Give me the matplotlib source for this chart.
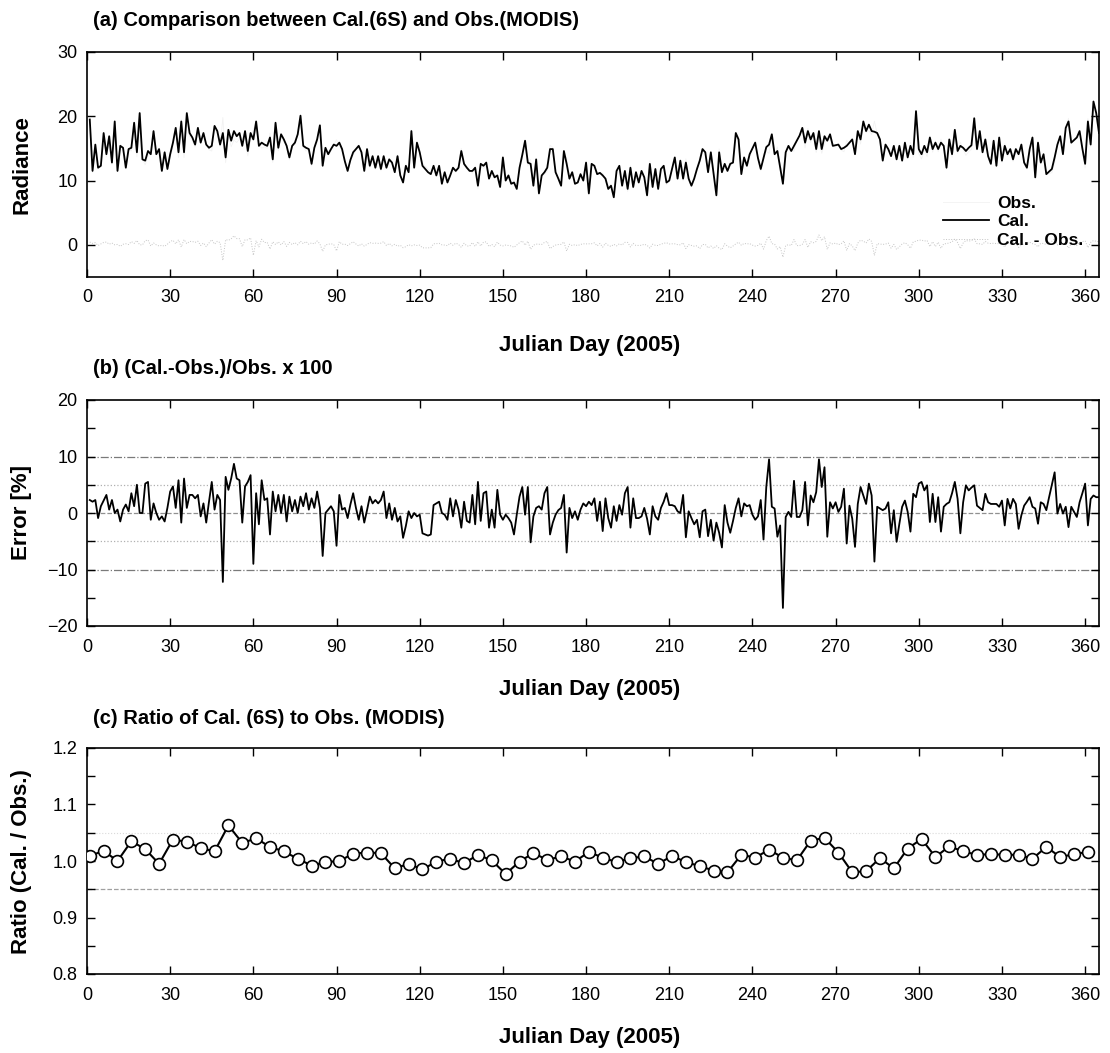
import numpy as np
import matplotlib
matplotlib.use("Agg")
import matplotlib.pyplot as plt
from matplotlib.ticker import MultipleLocator, FormatStrFormatter

plt.rcParams["font.family"] = ["Liberation Sans", "DejaVu Sans"]

# daily values (Julian day 1..365, 2005)
days = np.arange(1, 366)

radiance_cal = [
    19.5, 11.5, 15.6, 12.0, 12.3, 17.4, 14.1, 16.9, 12.8, 19.2,
    11.5, 15.4, 15.1, 12.0, 14.9, 15.1, 19.0, 14.4, 20.5, 13.3,
    13.1, 14.6, 14.1, 17.7, 14.1, 14.9, 11.5, 14.4, 11.8, 14.1,
    15.9, 18.2, 14.4, 19.2, 14.4, 20.5, 17.4, 16.7, 15.6, 18.2,
    15.9, 17.4, 15.6, 15.1, 15.4, 18.5, 17.7, 15.6, 17.4, 13.6,
    17.9, 16.2, 17.7, 16.9, 17.4, 15.4, 17.7, 14.6, 17.4, 16.4,
    19.2, 15.4, 15.9, 15.6, 15.4, 16.7, 13.3, 19.0, 15.1, 17.2,
    16.4, 15.4, 13.6, 15.4, 15.9, 17.2, 20.1, 15.4, 15.1, 14.9,
    12.6, 15.1, 16.4, 18.6, 12.3, 15.1, 14.1, 14.9, 15.6, 15.4,
    15.9, 14.9, 13.0, 11.5, 13.2, 14.4, 14.9, 15.4, 14.4, 11.5,
    14.9, 12.3, 13.8, 12.0, 13.8, 11.8, 13.8, 12.0, 13.3, 12.8,
    11.3, 13.8, 10.8, 9.7, 12.3, 11.3, 17.7, 12.0, 15.9, 14.4,
    12.3, 11.8, 11.3, 11.0, 12.3, 10.8, 12.3, 9.5, 11.3, 9.7,
    10.8, 12.0, 11.5, 12.0, 14.6, 12.6, 12.0, 11.5, 11.5, 12.0,
    9.2, 12.6, 12.3, 12.8, 10.3, 11.5, 10.5, 10.8, 9.0, 13.6,
    10.0, 10.8, 9.5, 9.7, 8.7, 12.0, 14.0, 16.2, 12.8, 12.6,
    9.2, 13.3, 8.0, 10.8, 11.3, 12.0, 14.9, 14.9, 11.3, 10.3,
    9.2, 14.6, 12.6, 10.3, 11.3, 9.5, 9.7, 11.0, 10.0, 12.8,
    8.0, 12.6, 12.3, 11.0, 11.2, 10.8, 10.3, 8.7, 9.2, 7.4,
    11.5, 12.3, 9.2, 11.5, 8.7, 12.0, 9.0, 11.3, 9.7, 11.5,
    10.5, 7.7, 12.6, 9.0, 11.8, 8.7, 11.8, 12.3, 9.7, 10.0,
    11.8, 13.6, 10.3, 13.1, 10.3, 12.8, 10.3, 9.2, 10.3, 11.8,
    13.1, 14.9, 14.4, 11.3, 14.4, 11.0, 7.7, 14.4, 11.3, 12.6,
    11.5, 12.6, 12.8, 17.4, 16.4, 11.0, 13.6, 12.3, 14.1, 15.0,
    15.9, 13.5, 11.8, 13.5, 15.2, 15.6, 17.2, 14.1, 14.6, 12.0,
    9.5, 14.4, 15.4, 14.6, 15.4, 16.2, 17.0, 18.2, 15.9, 17.7,
    16.4, 17.4, 14.9, 17.7, 14.9, 16.9, 16.2, 17.2, 15.4, 15.5,
    15.6, 14.9, 15.1, 15.4, 15.9, 16.4, 14.1, 17.7, 16.4, 19.2,
    17.7, 18.7, 17.7, 17.6, 17.4, 16.4, 13.1, 15.6, 14.9, 13.8,
    15.4, 13.3, 15.4, 13.1, 15.9, 13.6, 15.4, 14.1, 20.8, 14.9,
    14.1, 15.4, 14.4, 16.7, 14.9, 15.9, 14.9, 15.9, 15.4, 12.0,
    16.4, 14.1, 17.9, 14.6, 15.4, 15.1, 14.6, 15.1, 15.5, 19.7,
    14.9, 17.7, 14.4, 16.4, 13.8, 12.6, 16.2, 12.3, 16.7, 13.1,
    15.4, 14.1, 14.9, 13.3, 14.9, 14.1, 15.6, 12.8, 12.0, 14.9,
    16.7, 10.5, 15.9, 12.8, 14.1, 11.0, 11.4, 11.8, 13.6, 15.6,
    16.9, 14.1, 18.2, 19.2, 15.9, 16.3, 16.7, 17.7, 15.0, 12.6,
    19.2, 15.6, 22.3, 20.5, 17.4,
]

error_pct = [
    2.3, 2.0, 2.3, -0.9, 1.2, 2.2, 3.2, 0.6, 2.3, 0.0,
    0.6, -1.5, 0.6, 1.5, 0.3, 3.5, 1.2, 5.0, 0.0, 0.0,
    5.2, 5.5, -1.2, 1.7, 0.0, -1.2, -0.6, -1.5, 0.9, 3.8,
    4.7, 0.9, 5.8, -1.7, 6.1, 0.9, 3.2, 3.2, 2.6, 3.2,
    -0.6, 1.7, -1.7, 2.0, 5.5, 0.6, 3.2, 2.3, -12.2, 6.4,
    4.1, 6.1, 8.7, 6.1, 5.8, -1.7, 4.7, 5.5, 6.7, -9.0,
    3.5, -2.0, 5.8, 2.3, 2.6, -3.8, 3.8, 0.3, 3.2, 0.0,
    3.2, -1.5, 2.9, 0.3, 2.3, 0.0, 2.9, 1.2, 3.5, 0.6,
    2.6, 0.9, 3.8, 0.9, -7.6, 0.0, 0.6, 1.2, 0.3, -5.8,
    3.2, 0.6, 0.9, -0.9, 1.5, 3.5, 0.9, -1.2, 1.2, -1.7,
    0.5, 2.9, 1.7, 2.3, 1.7, 2.3, 3.8, -0.9, 1.7, -1.2,
    0.9, -1.5, -0.6, -4.4, -2.3, 0.3, -0.9, 0.0, -0.6, -0.3,
    -3.6, -3.8, -4.0, -3.8, 1.4, 1.7, 2.0, 0.0, -0.3, -1.2,
    2.6, -0.6, 2.3, 0.6, -2.6, 2.0, -1.4, -1.7, 3.2, -2.0,
    5.5, -1.4, 3.5, 3.8, -2.6, 0.6, -2.6, 4.1, -0.3, -1.2,
    -0.3, -0.9, -1.7, -3.8, -0.3, 2.9, 4.6, -0.3, 4.6, -5.2,
    -0.6, 0.9, 1.2, 0.6, 3.5, 4.6, -3.8, -1.7, -0.3, 0.5,
    0.9, 3.2, -7.0, 0.9, -0.9, 0.3, -1.2, 0.6, 1.7, 1.2,
    2.0, 1.4, 2.6, -1.4, 2.0, -3.2, 2.6, -0.9, -2.6, 1.2,
    -1.4, 1.4, -0.3, 3.5, 4.6, -2.6, 2.6, -0.9, -0.9, -0.6,
    0.9, -1.0, -3.8, 1.2, -0.6, -1.2, 0.9, 2.0, 3.5, 1.4,
    1.4, 1.2, 0.3, 0.0, 3.2, -4.3, 0.3, -0.9, -2.0, -1.2,
    -4.3, 0.3, 0.6, -4.1, -1.2, -4.9, -1.7, -3.5, -6.1, 1.4,
    -1.7, -3.5, -1.4, 0.9, 2.6, -0.6, 1.7, 1.2, 1.4, -0.3,
    -1.2, -0.6, 2.3, -4.7, 4.6, 9.5, 1.1, 0.8, -4.2, -2.2,
    -16.8, -0.7, 0.2, -0.7, 5.7, -0.7, -0.7, 0.5, 5.5, -2.2,
    3.1, 1.9, 3.7, 9.5, 4.6, 8.1, -4.2, 1.9, 0.8, 1.9,
    0.2, 1.1, 4.3, -5.4, 1.3, -1.0, -6.0, 1.6, 4.6, 3.1,
    1.6, 5.2, 3.1, -8.6, 1.1, 0.8, 0.5, 0.8, 1.9, -3.6,
    0.5, -5.1, -1.9, 1.1, 2.2, 0.2, -3.3, 3.4, 2.8, 5.2,
    5.5, 4.0, 4.9, -1.6, 3.4, -1.6, 2.8, -3.3, 1.1, 1.6,
    1.9, 3.5, 5.5, 2.5, -3.6, 1.9, 4.9, 4.0, 4.5, 4.9,
    1.3, 0.9, 0.5, 3.4, 1.9, 1.6, 1.6, 1.6, 1.1, 2.2,
    -2.2, 2.5, 0.8, 2.5, 1.6, -2.8, -0.4, 1.3, 2.0, 2.8,
    1.1, 0.8, -1.9, 1.9, 1.6, 0.5, 2.8, 5.0, 7.2, -0.1,
    1.6, -0.1, 1.1, -2.5, 1.1, 0.2, -0.7, 1.9, 3.5, 5.2,
    -2.2, 2.5, 3.1, 2.8, 2.8,
]

# 5-day ratio points
ratio_days = np.arange(1, 362, 5)
ratio = [
    1.009, 1.018, 1.000, 1.035, 1.021, 0.995, 1.038, 1.034, 1.023, 1.017,
    1.063, 1.032, 1.040, 1.025, 1.017, 1.004, 0.992, 0.998, 1.000, 1.013,
    1.015, 1.014, 0.987, 0.995, 0.985, 0.999, 1.004, 0.996, 1.011, 1.001,
    0.977, 0.999, 1.014, 1.002, 1.008, 0.999, 1.016, 1.006, 0.998, 1.005,
    1.008, 0.995, 1.009, 0.998, 0.991, 0.983, 0.980, 1.011, 1.006, 1.020,
    1.006, 1.001, 1.036, 1.041, 1.015, 0.980, 0.982, 1.005, 0.987, 1.022,
    1.039, 1.007, 1.026, 1.017, 1.011, 1.012, 1.011, 1.011, 1.004, 1.025,
    1.007, 1.012, 1.016,
]

cal = np.array(radiance_cal)
err = np.array(error_pct)
obs = cal / (1 + err / 100.0)
diff = cal - obs

W, H = 1110, 1053
fig = plt.figure(figsize=(W / 100, H / 100), dpi=100)


def box(left, top, right, bottom):
    return [left / W, 1 - bottom / H, (right - left) / W, (bottom - top) / H]


ax_a = fig.add_axes(box(87, 52, 1099, 277))
ax_b = fig.add_axes(box(87, 400, 1099, 626))
ax_c = fig.add_axes(box(87, 748, 1099, 974))

tick_fs = 13
for ax in (ax_a, ax_b, ax_c):
    ax.set_xlim(0, 365)
    ax.xaxis.set_major_locator(MultipleLocator(30))
    ax.tick_params(which="both", direction="in", top=True, right=True,
                   labelsize=tick_fs, width=1.0)
    ax.tick_params(which="major", length=6)
    ax.tick_params(which="minor", length=6)
    ax.tick_params(axis="x", pad=9)
    ax.tick_params(axis="y", pad=7)
    for s in ax.spines.values():
        s.set_linewidth(1.2)

# (a) radiance
ax_a.plot(days, obs, color="#f2f2f2", lw=0.6, label="Obs.")
ax_a.plot(days, cal, color="black", lw=1.3, label="Cal.")
ax_a.plot(days, diff, color="#c4c4c4", lw=0.7, ls=":", label="Cal. - Obs.")
ax_a.set_ylim(-5, 30)
ax_a.set_yticks([0, 10, 20, 30])
ax_a.legend(loc="center right", bbox_to_anchor=(0.995, 0.245), frameon=False,
            prop={"weight": "bold", "size": 12.5}, handlelength=2.6,
            labelspacing=0.2, borderpad=0.1, handletextpad=0.5)

# (b) error
ax_b.axhline(10, color="#7a7a7a", lw=0.9, ls="-.", zorder=1)
ax_b.axhline(-10, color="#7a7a7a", lw=0.9, ls="-.", zorder=1)
ax_b.axhline(5, color="#b0b0b0", lw=0.9, ls=":", zorder=1)
ax_b.axhline(-5, color="#b0b0b0", lw=0.9, ls=":", zorder=1)
ax_b.axhline(0, color="#909090", lw=0.9, ls="--", zorder=1)
ax_b.plot(days, err, color="black", lw=1.3, zorder=2)
ax_b.set_ylim(-20, 20)
ax_b.yaxis.set_major_locator(MultipleLocator(10))
ax_b.yaxis.set_minor_locator(MultipleLocator(5))

# (c) ratio
ax_c.axhline(0.95, color="#a0a0a0", lw=0.9, ls="--", zorder=1)
ax_c.axhline(1.05, color="#dadada", lw=0.8, ls=":", zorder=1)
ax_c.plot(ratio_days, ratio, color="black", lw=1.5, marker="o", ms=8.5,
          mfc="white", mec="black", mew=1.2, zorder=3)
ax_c.set_ylim(0.8, 1.2)
ax_c.yaxis.set_major_locator(MultipleLocator(0.1))
ax_c.yaxis.set_minor_locator(MultipleLocator(0.05))
ax_c.yaxis.set_major_formatter(FormatStrFormatter("%.1f"))

title_fs = 14.5
label_fs = 16
fig.text(93 / W, 1 - 20 / H, "(a) Comparison between Cal.(6S) and Obs.(MODIS)",
         fontsize=title_fs, fontweight="bold", ha="left", va="center")
fig.text(93 / W, 1 - 368 / H, "(b) (Cal.-Obs.)/Obs. x 100",
         fontsize=title_fs, fontweight="bold", ha="left", va="center")
fig.text(93 / W, 1 - 718 / H, "(c) Ratio of Cal. (6S) to Obs. (MODIS)",
         fontsize=title_fs, fontweight="bold", ha="left", va="center")

for y in (345, 690, 1038):
    fig.text(590 / W, 1 - y / H, "Julian Day (2005)", fontsize=label_fs,
             fontweight="bold", ha="center", va="center")

fig.text(22 / W, 1 - 165 / H, "Radiance", fontsize=label_fs, fontweight="bold",
         rotation=90, ha="center", va="center")
fig.text(22 / W, 1 - 513 / H, "Error [%]", fontsize=label_fs, fontweight="bold",
         rotation=90, ha="center", va="center")
fig.text(22 / W, 1 - 862 / H, "Ratio (Cal. / Obs.)", fontsize=label_fs,
         fontweight="bold", rotation=90, ha="center", va="center")

fig.savefig("out.png", dpi=100)
